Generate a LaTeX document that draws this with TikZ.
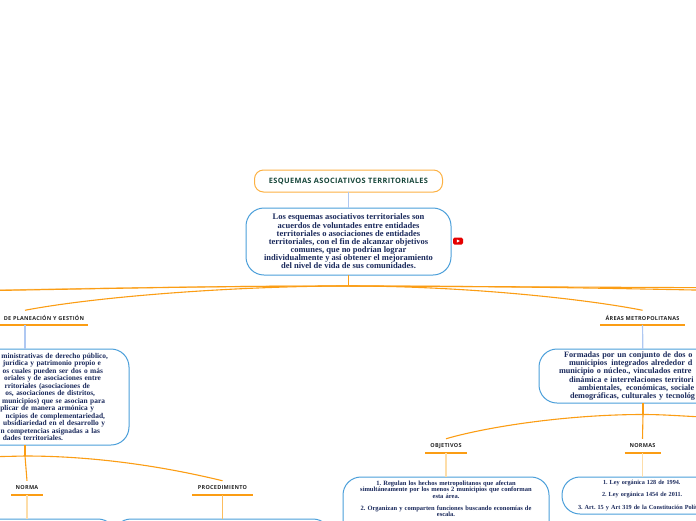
\documentclass[tikz,border=0pt]{standalone}
\usepackage{fontspec}
\setmainfont{Liberation Serif}
\newfontfamily\labelfont[LetterSpace=5]{Open Sans}
\usepackage{tikz}
\usetikzlibrary{positioning}
\definecolor{branchorange}{HTML}{FB9D14}
\definecolor{paleorange}{HTML}{FDDDA8}
\definecolor{paleblue}{HTML}{AFC8F2}
\definecolor{boxblue}{HTML}{4B9FDA}
\definecolor{textnavy}{HTML}{1B2A5C}
\definecolor{titlegreen}{HTML}{17463A}
\newcommand{\linepad}[1]{\rule{#1pt}{0pt}}
\frenchspacing

\begin{document}
\begin{tikzpicture}[
    x=1pt, y=-1pt,
    outer sep=0pt,
    titlebox/.style={draw=branchorange!80, line width=1pt, rounded corners=9pt,
      minimum width=188pt, minimum height=22pt,
      font=\labelfont\fontsize{7.4}{9}\selectfont\bfseries, text=titlegreen},
    infobox/.style={draw=boxblue, line width=1pt, rounded corners=18pt, fill=white,
      inner sep=0pt, text=textnavy, align=center},
    toplabel/.style={minimum height=14.5pt, inner sep=0pt,
      font=\labelfont\fontsize{5.5}{7}\selectfont\bfseries, text=black!85},
    underline/.style={draw=branchorange, line width=1.6pt},
    branch/.style={draw=branchorange, line width=1.1pt},
    trunk/.style={draw=branchorange, line width=1.6pt},
    linkblue/.style={draw=paleblue, line width=1.2pt},
    linkorange/.style={draw=paleorange, line width=1.3pt}
  ]
    \useasboundingbox (0,0) rectangle (696,520);
    \clip (0,0) rectangle (696,520);

    % top of the map
    \node[titlebox] (title) at (348.5,181) {ESQUEMAS ASOCIATIVOS TERRITORIALES};
    \node[infobox, below=16pt of title, minimum width=205pt, minimum height=67pt,
      font=\fontsize{8.5}{8.15}\selectfont\bfseries] (main) {Los esquemas asociativos territoriales son\\
      acuerdos de voluntades entre entidades\\
      territoriales o asociaciones de entidades\\
      territoriales, con el fin de alcanzar objetivos\\
      comunes, que no podrían lograr\\
      individualmente y así obtener el mejoramiento\\
      del nivel de vida de sus comunidades.};
    \node[fill=red!90!black, rounded corners=1.5pt, minimum width=10pt, minimum height=7pt,
      inner sep=0pt] (video) at (458,241) {};
    \fill[white] ([shift={(-1.2,-1.6)}]video.center) -- ([shift={(1.8,0)}]video.center)
      -- ([shift={(-1.2,1.6)}]video.center) -- cycle;
    \coordinate (hub) at (348.5,286);

    % left branch
    \node[toplabel, text width=118pt, align=right, minimum width=126pt] (planning) at (25,317.5) {DE PLANEACIÓN Y GESTIÓN};
    \node[infobox, minimum width=208pt, minimum height=96pt, text width=208pt, align=right,
      font=\fontsize{7.4}{7.52}\selectfont\bfseries] (planbox) at (25,397) {ministrativas de derecho público,\linepad{21}\\
      jurídica y patrimonio propio e\linepad{28}\\
      os cuales pueden ser dos o más\linepad{26}\\
      oriales y de asociaciones entre\linepad{28}\\
      rritoriales (asociaciones de\linepad{39}\\
      os, asociaciones de distritos,\linepad{34}\\
      municipios) que se asocian para\linepad{24}\\
      plicar de manera armónica y\linepad{35}\\
      ncipios de complementariedad,\linepad{24}\\
      ubsidiariedad en el desarrollo y\linepad{24}\\
      n competencias asignadas a las\linepad{29}\\
      dades territoriales.\linepad{66}};
    \coordinate (planhub) at (25,456);
    \node[toplabel, minimum width=32pt] (norma) at (27,488) {NORMA};
    \node[toplabel, minimum width=61pt] (procedure) at (222.5,488) {PROCEDIMIENTO};
    \node[infobox, minimum width=178pt, minimum height=40pt, anchor=north] (normabox) at (27,519) {};
    \node[infobox, minimum width=218pt, minimum height=40pt, anchor=north] (procbox) at (222,519) {};

    % right branch
    \node[toplabel, minimum width=85pt] (metro) at (642.5,317.5) {ÁREAS METROPOLITANAS};
    \node[infobox, minimum width=208pt, minimum height=54pt, text width=208pt, align=left,
      font=\fontsize{8.2}{8.2}\selectfont\bfseries] (metrobox) at (643,376) {\linepad{25}Formadas por un conjunto de dos o\\
      \linepad{30}municipios\ \,integrados alrededor d\\
      \linepad{20}municipio o núcleo., vinculados entre\\
      \linepad{30}dinámica e interrelaciones territori\\
      \linepad{39}ambientales,\ \,económicas, sociale\\
      \linepad{31}demográficas, culturales y tecnológ};
    \coordinate (metrohub) at (643,414.5);
    \node[toplabel, minimum width=42pt] (goals) at (446,446) {OBJETIVOS};
    \node[toplabel, minimum width=36pt] (rules) at (642.5,446) {NORMAS};
    \node[infobox, anchor=north, text width=206pt,
      font=\fontsize{6.5}{6.25}\selectfont\bfseries] (goalbox) at (446,477) {\rule{0pt}{8.7pt}1. Regulan los hechos metropolitanos que afectan\\
      simultáneamente por los menos 2 municipios que conforman\\
      esta área.\\[5.8pt]
      2. Organizan y comparten funciones buscando economías de\\
      escala.\rule[-30pt]{0pt}{30pt}};
    \node[infobox, minimum width=160pt, minimum height=37pt, text width=160pt, align=left,
      font=\fontsize{6.2}{6.2}\selectfont\bfseries] (rulebox) at (642,495.5) {\linepad{41}1. Ley orgánica 128 de 1994.\\[6pt]
      \linepad{40}2. Ley orgánica 1454 de 2011.\\[6pt]
      \linepad{16}3. Art. 15 y Art 319 de la Constitución Polít};

    % underlines below the labels
    \foreach \lbl in {planning,norma,procedure,metro,goals,rules}
      \draw[underline] (\lbl.south west) -- (\lbl.south east);

    % connectors
    \draw[linkblue] (title) -- (main);
    \draw[trunk] (main) -- (hub);
    \coordinate (offleft) at (-80,291.5);
    \coordinate (offright) at (770,291.5);
    \coordinate (offright2) at (770,288);
    \draw[branch, draw=branchorange!60] (hub) .. controls (200,286) and (60,289) .. (offleft);
    \draw[branch] (hub) .. controls (180,286) and (60,290) .. (offleft);
    \draw[branch] (hub) .. controls (240,286) and (100,296) .. (planning.north);
    \draw[branch] (hub) .. controls (460,286) and (580,298) .. (metro.north);
    \draw[branch] (hub) -- (offright2);
    \draw[branch] (hub) .. controls (520,286) and (640,289) .. (offright);
    \draw[linkblue] (planning) -- (planbox);
    \draw[trunk, line width=1.2pt] (planbox) -- (planhub);
    \coordinate (planleft) at (-20,457);
    \draw[branch] (planhub) -- (norma.north);
    \draw[branch] (planhub) .. controls (100,456) and (170,468) .. (procedure.north);
    \draw[branch] (planhub) -- (planleft);
    \draw[linkorange] (norma) -- (norma |- normabox.north);
    \draw[linkorange, draw=paleorange!50!branchorange] (procedure) -- (procedure |- procbox.north);
    \draw[linkblue] (metro) -- (metrobox);
    \draw[trunk, line width=1.2pt] (metrobox) -- (metrohub);
    \coordinate (metroright) at (730,418);
    \draw[branch] (metrohub) .. controls (570,414.5) and (490,426) .. (goals.north);
    \draw[branch] (metrohub) -- (rules.north);
    \draw[branch] (metrohub) .. controls (670,414.5) and (690,417) .. (metroright);
    \draw[linkorange] (goals) -- (goalbox);
    \draw[linkorange] (rules) -- (rules |- rulebox.north);
  \end{tikzpicture}
\end{document}
